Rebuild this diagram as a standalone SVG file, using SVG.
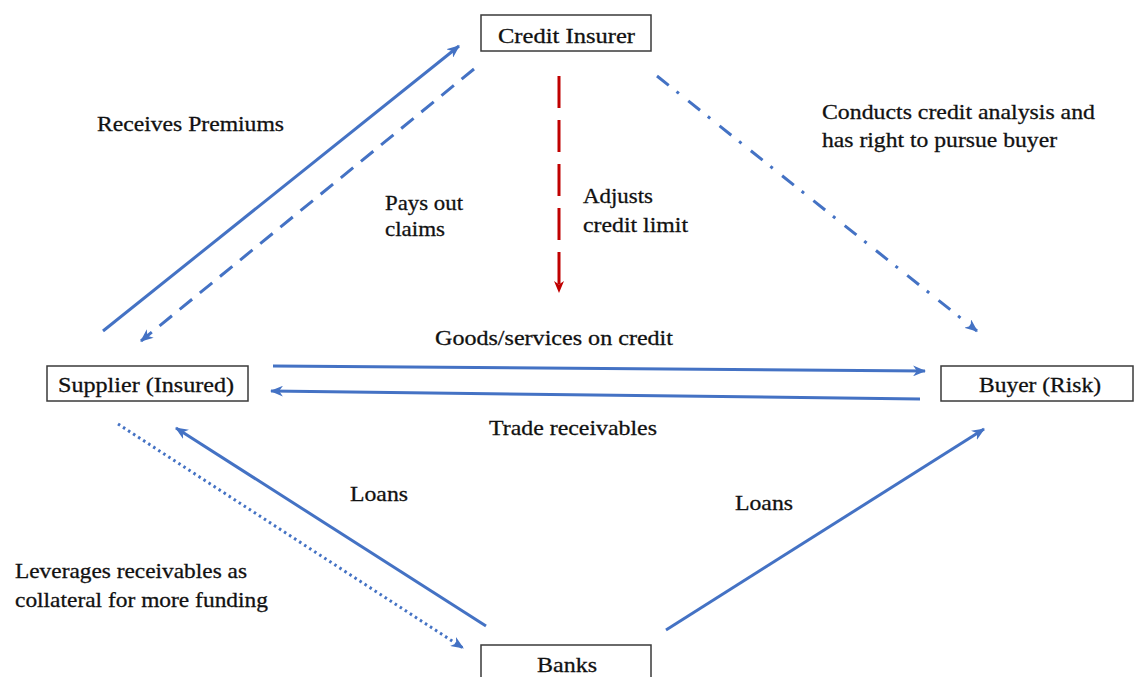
<svg xmlns="http://www.w3.org/2000/svg" width="1135" height="677" viewBox="0 0 1135 677">
<style>
.box{fill:#fff;stroke:#3a3a3a;stroke-width:1.5}
text{font-family:"Liberation Serif","Times New Roman",serif;font-size:22px;fill:#111;stroke:#111;stroke-width:0.3}
.c{stroke:#4472C4;stroke-width:3;fill:none}
.dash{stroke-dasharray:16 10}
.dd{stroke-dasharray:15 10 3 12}
.dot{stroke-dasharray:2.5 3.5}
.red{stroke:#C00000;stroke-width:3;fill:none;stroke-dasharray:32 12}
</style>
<defs>
<marker id="ab" viewBox="0 0 12 10" refX="11" refY="5" markerWidth="13" markerHeight="11" markerUnits="userSpaceOnUse" orient="auto">
<path d="M0,0 L12,5 L0,10 L3.5,5 z" fill="#4472C4"/>
</marker>
<marker id="ar" viewBox="0 0 12 10" refX="11" refY="5" markerWidth="13" markerHeight="10" markerUnits="userSpaceOnUse" orient="auto">
<path d="M0,0 L12,5 L0,10 L3.5,5 z" fill="#C00000"/>
</marker>
</defs>
<rect width="1135" height="677" fill="#fff"/>
<g id="connectors">
<line class="c" x1="103" y1="331" x2="459" y2="46" marker-end="url(#ab)"/>
<line class="c dash" x1="474" y1="69" x2="141" y2="341" marker-end="url(#ab)"/>
<line class="red" x1="559" y1="76" x2="559" y2="292" marker-end="url(#ar)"/>
<line class="c dd" x1="657" y1="76" x2="977" y2="331" marker-end="url(#ab)"/>
<line class="c" x1="273" y1="366" x2="925" y2="371" marker-end="url(#ab)"/>
<line class="c" x1="920" y1="399" x2="271" y2="391" marker-end="url(#ab)"/>
<line class="c" x1="486" y1="626" x2="176" y2="428" marker-end="url(#ab)"/>
<line class="c dot" x1="118" y1="424" x2="463" y2="648" marker-end="url(#ab)"/>
<line class="c" x1="666" y1="630" x2="984" y2="429" marker-end="url(#ab)"/>
</g>
<g id="credit-insurer">
<rect class="box" x="481" y="15" width="170" height="36"/>
<text x="498" y="43" textLength="137" lengthAdjust="spacingAndGlyphs">Credit Insurer</text>
</g>
<g id="supplier">
<rect class="box" x="47" y="366" width="201" height="35"/>
<text x="58" y="392" textLength="176" lengthAdjust="spacingAndGlyphs">Supplier (Insured)</text>
</g>
<g id="buyer">
<rect class="box" x="941" y="366" width="192" height="35"/>
<text x="979" y="392" textLength="122" lengthAdjust="spacingAndGlyphs">Buyer (Risk)</text>
</g>
<g id="banks">
<rect class="box" x="481" y="645" width="170" height="40"/>
<text x="537" y="672" textLength="60" lengthAdjust="spacingAndGlyphs">Banks</text>
</g>
<g id="labels">
<text x="97" y="131" textLength="187" lengthAdjust="spacingAndGlyphs">Receives Premiums</text>
<text x="385" y="210" textLength="78" lengthAdjust="spacingAndGlyphs">Pays out</text>
<text x="385" y="236" textLength="60" lengthAdjust="spacingAndGlyphs">claims</text>
<text x="583" y="203" textLength="70" lengthAdjust="spacingAndGlyphs">Adjusts</text>
<text x="583" y="232" textLength="105" lengthAdjust="spacingAndGlyphs">credit limit</text>
<text x="822" y="119" textLength="273" lengthAdjust="spacingAndGlyphs">Conducts credit analysis and</text>
<text x="822" y="147" textLength="235" lengthAdjust="spacingAndGlyphs">has right to pursue buyer</text>
<text x="435" y="345" textLength="238" lengthAdjust="spacingAndGlyphs">Goods/services on credit</text>
<text x="489" y="435" textLength="168" lengthAdjust="spacingAndGlyphs">Trade receivables</text>
<text x="350" y="501" textLength="58" lengthAdjust="spacingAndGlyphs">Loans</text>
<text x="735" y="510" textLength="58" lengthAdjust="spacingAndGlyphs">Loans</text>
<text x="15" y="578" textLength="232" lengthAdjust="spacingAndGlyphs">Leverages receivables as</text>
<text x="15" y="607" textLength="253" lengthAdjust="spacingAndGlyphs">collateral for more funding</text>
</g>
</svg>
